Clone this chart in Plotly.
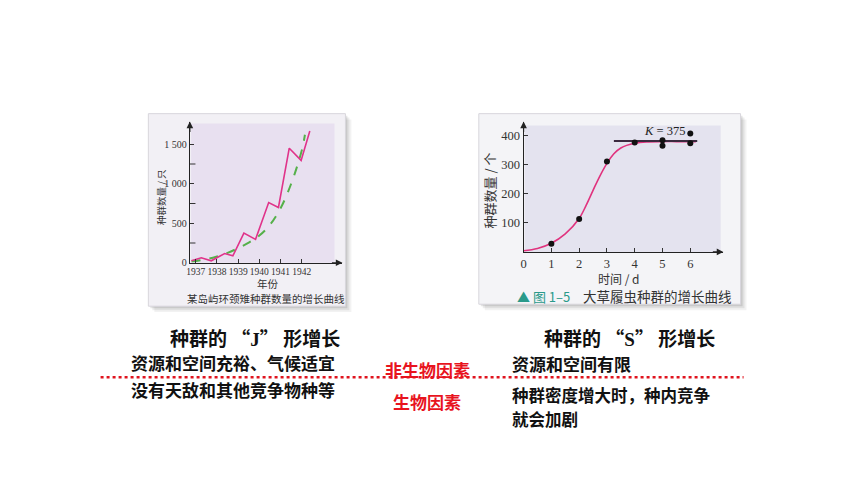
import plotly.graph_objects as go

# page body has an 8px default margin, so the figure is drawn 8px in from the window edge
OFF = 8
W, H = 860 - OFF, 484 - OFF

# ---------------- data: J-shaped growth (ring-necked pheasant) ----------------
j_years = [1936.79, 1937.26, 1937.73, 1938.36, 1938.75, 1939.27, 1939.82,
           1940.44, 1940.90, 1941.41, 1941.97, 1942.38]
j_counts = [25, 62, 25, 117, 88, 375, 296, 762, 700, 1450, 1296, 1667]
j_model_years = [1936.8, 1937.5, 1938.0, 1938.5, 1939.0, 1939.5, 1940.0,
                 1940.5, 1941.0, 1941.5, 1942.0, 1942.15]
j_model_counts = [15, 45, 80, 125, 185, 255, 345, 480, 690, 1000, 1420, 1620]
j_xticks = [1937, 1938, 1939, 1940, 1941, 1942]
j_yticks = [0, 500, 1000, 1500]
j_yticklabels = ["0", "500", "1 000", "1 500"]
j_yminor = [250, 750, 1250]

# ---------------- data: S-shaped growth (Paramecium) ----------------
s_obs_t = [1, 2, 3, 4, 5, 5, 6, 6]
s_obs_n = [28, 113, 311, 377, 385, 366, 408, 374]
s_curve_t = [0, 0.5, 1, 1.5, 2, 2.25, 2.5, 2.75, 3, 3.25, 3.5, 4, 4.5, 5, 5.5, 6, 6.2]
s_curve_n = [4, 12, 30, 62, 115, 160, 212, 262, 305, 338, 358, 374, 379, 380, 380, 380, 380]
k_line_t = [3.25, 6.25]
k_line_n = [382, 382]
s_xticks = [0, 1, 2, 3, 4, 5, 6]
s_yticks = [100, 200, 300, 400]


def px(x):
    return (x - OFF) / W


def py(y):
    return 1 - (y - OFF) / H


fig = go.Figure()

# J chart traces
fig.add_trace(go.Scatter(x=j_model_years, y=j_model_counts, mode="lines",
                         line=dict(color="#55b04a", width=2, dash="dash", shape="spline"),
                         xaxis="x", yaxis="y", showlegend=False, hoverinfo="skip"))
fig.add_trace(go.Scatter(x=j_years, y=j_counts, mode="lines",
                         line=dict(color="#e0338a", width=1.6),
                         xaxis="x", yaxis="y", showlegend=False))
# J minor y ticks
fig.add_trace(go.Scatter(x=[1936.72] * len(j_yminor), y=j_yminor, mode="markers",
                         marker=dict(symbol="line-ew", size=8, line=dict(color="#333", width=1)),
                         xaxis="x", yaxis="y", showlegend=False, hoverinfo="skip"))

# S chart traces
fig.add_trace(go.Scatter(x=s_curve_t, y=s_curve_n, mode="lines",
                         line=dict(color="#e0337e", width=1.6, shape="spline"),
                         xaxis="x2", yaxis="y2", showlegend=False))
fig.add_trace(go.Scatter(x=k_line_t, y=k_line_n, mode="lines",
                         line=dict(color="#3b2a3f", width=2),
                         xaxis="x2", yaxis="y2", showlegend=False))
fig.add_trace(go.Scatter(x=s_obs_t, y=s_obs_n, mode="markers",
                         marker=dict(color="#111", size=6),
                         xaxis="x2", yaxis="y2", showlegend=False))

shapes = []
# panel shadows + backgrounds
for (x0, y0, x1, y1, bg) in [(145, 115, 343, 310, "#f2f0f5"), (477, 115, 740, 308, "#f4f4f7")]:
    for k, op in [(6, 0.05), (4, 0.07), (2, 0.10)]:
        shapes.append(dict(type="rect", xref="paper", yref="paper",
                           x0=px(x0 + k), x1=px(x1 + k), y0=py(y1 + k), y1=py(y0 + k),
                           fillcolor=f"rgba(0,0,0,{op})", line=dict(width=0), layer="below"))
    shapes.append(dict(type="rect", xref="paper", yref="paper",
                       x0=px(x0), x1=px(x1), y0=py(y1), y1=py(y0),
                       fillcolor=bg, line=dict(color="#d8d6dc", width=1), layer="below"))
# plot fills
shapes.append(dict(type="rect", xref="paper", yref="paper",
                   x0=px(188), x1=px(332), y0=py(266), y1=py(125),
                   fillcolor="#e8e0f0", line=dict(width=0), layer="below"))
shapes.append(dict(type="rect", xref="paper", yref="paper",
                   x0=px(523), x1=px(720), y0=py(255), y1=py(127),
                   fillcolor="#e4e3ef", line=dict(width=0), layer="below"))
# red dotted separator
shapes.append(dict(type="line", xref="paper", yref="paper",
                   x0=px(97), x1=px(743), y0=py(382), y1=py(382),
                   line=dict(color="#e0141e", width=2.5, dash="dot")))

serif = "Liberation Serif, serif"
cjk = "Noto Sans CJK SC"

annotations = []
# axis arrowheads
for xr, yr in [("x", "y"), ("x2", "y2")]:
    annotations.append(dict(xref=f"{xr} domain", yref=f"{yr} domain", x=1, y=0, ax=-12, ay=0,
                            text="", showarrow=True, arrowhead=2, arrowsize=1.1, arrowwidth=1.2,
                            arrowcolor="#222"))
    annotations.append(dict(xref=f"{xr} domain", yref=f"{yr} domain", x=0, y=1, ax=0, ay=12,
                            text="", showarrow=True, arrowhead=2, arrowsize=1.1, arrowwidth=1.2,
                            arrowcolor="#222"))


def txt(x, y, s, size, color="#111", font=cjk, xanchor="center", angle=0):
    annotations.append(dict(xref="paper", yref="paper", x=px(x), y=py(y), text=s,
                            showarrow=False, xanchor=xanchor, yanchor="middle",
                            textangle=angle, font=dict(size=size, color=color, family=font)))


# J chart labels
txt(157, 200, "种群数量 / 只", 9.5, color="#333", angle=-90)
txt(265, 287, "年份", 10.5, color="#333")
txt(263, 302, "某岛屿环颈雉种群数量的增长曲线", 10.5, color="#333")
# S chart labels
txt(618, 282, "时间 / d", 12, color="#333")
txt(488, 193, "种群数量 / 个", 13, color="#333", angle=-90)
txt(664, 133, "<i>K</i> = 375", 12.5, color="#222", font=serif)
txt(513, 300, "▲ 图 1–5", 13, color="#2a9a8a", xanchor="left")
txt(580, 300, "大草履虫种群的增长曲线", 13.5, color="#333", xanchor="left")

# lower text
J_HEAD = "<b>种群的 “<span style=\"font-family:Liberation Serif\">J</span>” 形增长</b>"
S_HEAD = "<b>种群的 “<span style=\"font-family:Liberation Serif\">S</span>” 形增长</b>"
txt(252, 342, J_HEAD, 19)
txt(230, 367, "<b>资源和空间充裕、气候适宜</b>", 17)
txt(230, 394, "<b>没有天敌和其他竞争物种等</b>", 17)
txt(425, 374, "<b>非生物因素</b>", 17, color="#e8141e")
txt(425, 407, "<b>生物因素</b>", 17, color="#e8141e")
txt(628, 342, S_HEAD, 19)
txt(508, 368, "<b>资源和空间有限</b>", 17, xanchor="left")
txt(508, 400, "<b>种群密度增大时，种内竞争</b>", 16.5, xanchor="left")
txt(508, 424, "<b>就会加剧</b>", 16.5, xanchor="left")

axis_common = dict(showgrid=False, zeroline=False, showline=True, linecolor="#222", linewidth=1.2,
                   ticks="inside", ticklen=4, tickcolor="#333", fixedrange=True, tickangle=0)

fig.update_layout(
    width=W, height=H, margin=dict(l=0, r=0, t=0, b=0),
    paper_bgcolor="white", plot_bgcolor="rgba(0,0,0,0)",
    shapes=shapes, annotations=annotations,
    xaxis=dict(domain=[px(186.7), px(340)], range=[1936.72, 1943.92],
               tickvals=j_xticks, ticktext=[str(v) for v in j_xticks],
               tickfont=dict(size=9.5, family=serif, color="#333"), anchor="y", **axis_common),
    yaxis=dict(domain=[py(266), py(123)], range=[0, 1787.5],
               tickvals=j_yticks, ticktext=j_yticklabels,
               tickfont=dict(size=10, family=serif, color="#333"), anchor="x", **axis_common),
    xaxis2=dict(domain=[px(522), px(722.7)], range=[0, 7.19],
                tickvals=s_xticks, ticktext=[str(v) for v in s_xticks],
                tickfont=dict(size=12.5, family=serif, color="#333"), anchor="y2", **axis_common),
    yaxis2=dict(domain=[py(255), py(123)], range=[0, 449],
                tickvals=s_yticks, ticktext=[str(v) for v in s_yticks],
                tickfont=dict(size=12.5, family=serif, color="#333"), anchor="x2", **axis_common),
)

fig.write_html("out.html")
